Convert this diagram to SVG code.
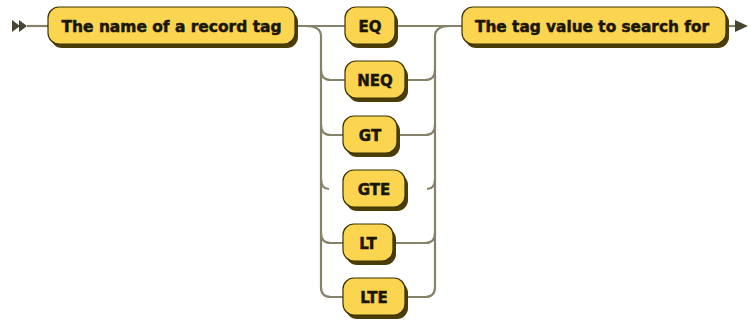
<svg xmlns="http://www.w3.org/2000/svg" width="751" height="321" viewBox="0 0 751 321">
<defs>
<style>
.line{fill:none;stroke:#858268;stroke-width:2.2}
.box{fill:#fbd550;stroke:#3d3300;stroke-width:1.2}
.sh{fill:#4a3d05}
.t{font-family:"DejaVu Sans",Verdana,sans-serif;font-weight:bold;font-size:15px;fill:#1a1600;stroke:#1a1600;stroke-width:0.5;text-anchor:middle}
.mk{fill:#4a4530}
</style>
</defs>
<rect width="751" height="321" fill="#ffffff"/>
<g id="connectors">
<path class="mk" d="M12,20 L20,26 L12,32 Z M19,20 L27,26 L19,32 Z"/>
<path class="line" d="M27,26 H48"/>
<path class="line" d="M295,26 H345"/>
<path class="line" d="M305,26 Q321,26 321,36 V287 Q321,297 331,297 H343"/>
<path class="line" d="M321,70 Q321,80 331,80 H345"/>
<path class="line" d="M321,125 Q321,135 331,135 H343"/>
<path class="line" d="M321,179 Q321,189 329,189"/>
<path class="line" d="M321,233 Q321,243 331,243 H343"/>
<path class="line" d="M395,26 H462"/>
<path class="line" d="M405,80 H425 Q435,80 435,70"/>
<path class="line" d="M397,135 H425 Q435,135 435,125"/>
<path class="line" d="M427,189 Q435,189 435,179"/>
<path class="line" d="M393,243 H425 Q435,243 435,233"/>
<path class="line" d="M405,297 H425 Q435,297 435,287 V36 Q435,26 451,26"/>
<path class="line" d="M726,26 H736"/>
<path class="mk" d="M735,20 L748,26 L735,32 Z"/>
</g>
<g id="n1">
<rect class="sh" x="51" y="11" width="247" height="37" rx="11"/>
<rect class="box" x="48" y="7" width="247" height="37" rx="11"/>
<text class="t" x="171.5" y="31.5" textLength="220" lengthAdjust="spacingAndGlyphs">The name of a record tag</text>
</g>
<g id="eq">
<rect class="sh" x="348" y="11" width="50" height="37" rx="11"/>
<rect class="box" x="345" y="7" width="50" height="37" rx="11"/>
<text class="t" x="370" y="31.5">EQ</text>
</g>
<g id="neq">
<rect class="sh" x="348" y="65" width="60" height="37" rx="11"/>
<rect class="box" x="345" y="61" width="60" height="37" rx="11"/>
<text class="t" x="375" y="85.5">NEQ</text>
</g>
<g id="gt">
<rect class="sh" x="346" y="120" width="54" height="37" rx="11"/>
<rect class="box" x="343" y="116" width="54" height="37" rx="11"/>
<text class="t" x="370" y="140.5">GT</text>
</g>
<g id="gte">
<rect class="sh" x="346" y="174" width="62" height="37" rx="11"/>
<rect class="box" x="343" y="170" width="62" height="37" rx="11"/>
<text class="t" x="374" y="194.5">GTE</text>
</g>
<g id="lt">
<rect class="sh" x="346" y="228" width="50" height="37" rx="11"/>
<rect class="box" x="343" y="224" width="50" height="37" rx="11"/>
<text class="t" x="368" y="248.5">LT</text>
</g>
<g id="lte">
<rect class="sh" x="346" y="282" width="62" height="37" rx="11"/>
<rect class="box" x="343" y="278" width="62" height="37" rx="11"/>
<text class="t" x="374" y="302.5">LTE</text>
</g>
<g id="n2">
<rect class="sh" x="465" y="11" width="264" height="37" rx="11"/>
<rect class="box" x="462" y="7" width="264" height="37" rx="11"/>
<text class="t" x="592" y="31.5" textLength="234" lengthAdjust="spacingAndGlyphs">The tag value to search for</text>
</g>
</svg>
